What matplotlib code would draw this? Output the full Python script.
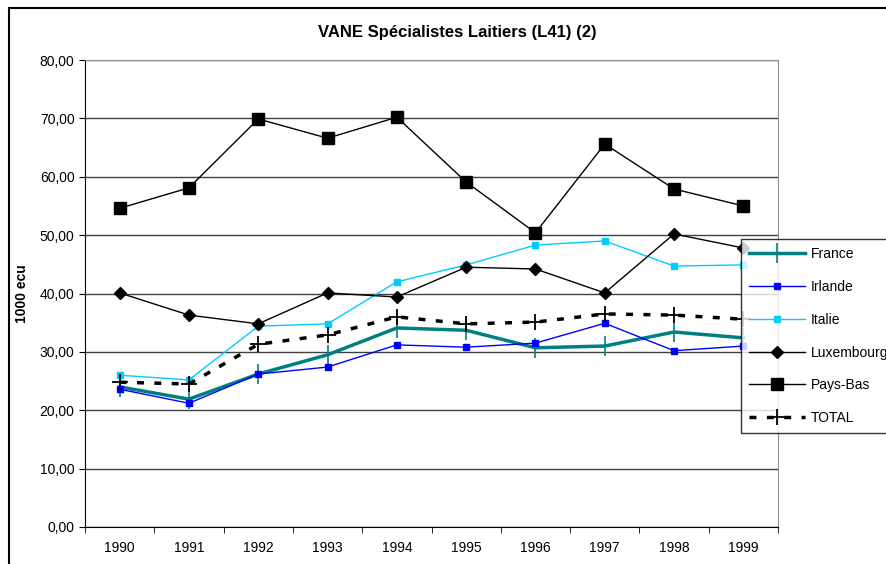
import numpy as np
import matplotlib.pyplot as plt
from matplotlib.patches import Rectangle

plt.rcParams['font.family'] = ['Liberation Sans', 'DejaVu Sans']

# --- DATOS ---
annees = ['1990', '1991', '1992', '1993', '1994', '1995', '1996', '1997', '1998', '1999']
france = [24.0, 21.9, 26.2, 29.5, 34.1, 33.7, 30.7, 31.0, 33.4, 32.4]
irlande = [23.6, 21.2, 26.2, 27.4, 31.2, 30.8, 31.5, 34.9, 30.2, 31.0]
italie = [26.0, 25.2, 34.4, 34.8, 42.0, 44.9, 48.3, 49.0, 44.7, 44.9]
luxembourg = [40.1, 36.3, 34.8, 40.1, 39.4, 44.5, 44.2, 40.1, 50.2, 47.8]
pays_bas = [54.6, 58.1, 69.9, 66.6, 70.2, 59.1, 50.4, 65.6, 57.9, 55.0]
total = [24.8, 24.5, 31.3, 32.9, 36.0, 34.8, 35.1, 36.5, 36.3, 35.6]
yticks = np.arange(0, 81, 10)

W, H = 887, 564
fig = plt.figure(figsize=(W / 100, H / 100), dpi=100)
ax = fig.add_axes([85 / W, (H - 527) / H, (778 - 85) / W, (527 - 60) / H])

x = np.arange(len(annees))

ax.plot(x, france, color='#008080', lw=2.5, marker='|', ms=14, mew=1.2, label='France', zorder=4)
ax.plot(x, irlande, color='#0000FF', lw=1, marker='s', ms=4, label='Irlande', zorder=4)
ax.plot(x, italie, color='#00CCFF', lw=1, marker='s', ms=4.5, label='Italie', zorder=4)
ax.plot(x, luxembourg, color='black', lw=1, marker='D', ms=6, label='Luxembourg', zorder=4)
ax.plot(x, pays_bas, color='black', lw=1, marker='s', ms=8, label='Pays-Bas', zorder=4)
ax.plot(x, total, color='black', lw=2.5, ls=(0, (2, 3)), marker='+', ms=12, mew=1.3,
        label='TOTAL', zorder=5)

# --- EJES ---
ax.set_xlim(-0.5, len(annees) - 0.5)
ax.set_ylim(0, 80)
ax.set_yticks(yticks)
ax.set_yticklabels([f'{v:.2f}'.replace('.', ',') for v in yticks], fontsize=10)
ax.set_xticks(x)
ax.set_xticklabels(annees, fontsize=10)
ax.set_xticks(np.arange(-0.5, len(annees)), minor=True)
ax.tick_params(axis='x', which='major', length=0, pad=10)
ax.tick_params(axis='x', which='minor', length=4, direction='out')
ax.tick_params(axis='y', length=4, direction='out')

ax.grid(axis='y', color='#404040', lw=1)
ax.set_axisbelow(True)
for s in ['top', 'right']:
    ax.spines[s].set_color('#909090')
for s in ['left', 'bottom']:
    ax.spines[s].set_color('black')

ax.set_ylabel('1000 ecu', fontsize=10, weight='bold')
ax.yaxis.set_label_coords((29 - 85) / (778 - 85), 0.5)
fig.text(457 / W, 1 - 32 / H, 'VANE Spécialistes Laitiers (L41) (2)', ha='center', va='center',
         fontsize=12, weight='bold')

leg = ax.legend(loc='upper left', bbox_to_anchor=(741 / W, 1 - 239 / H), bbox_transform=fig.transFigure,
                fontsize=10, frameon=True, fancybox=False, borderaxespad=0, handlelength=4.0,
                labelspacing=1.35, borderpad=0.6, handletextpad=0.4)
leg.get_frame().set_edgecolor('black')
leg.get_frame().set_linewidth(1)

# cadre extérieur
fig.patches.append(Rectangle((9 / W, -0.1), 1.2, 1 - 8 / H + 0.1, transform=fig.transFigure,
                             fill=False, edgecolor='black', lw=1.5))

fig.savefig('out.png', dpi=100)
